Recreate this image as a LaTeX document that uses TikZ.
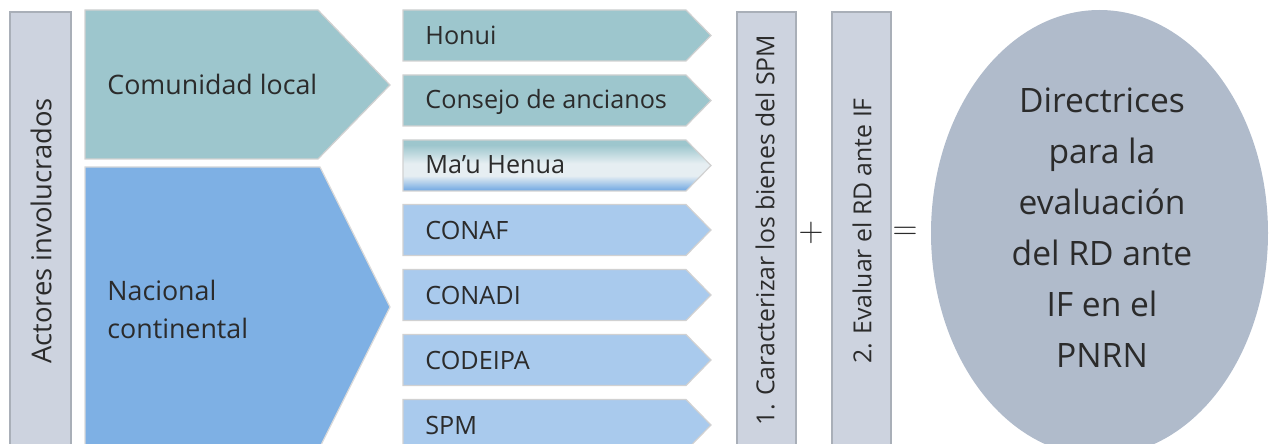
\documentclass[tikz,border=0pt]{standalone}
\usepackage{fontspec}
\setmainfont{Open Sans}
\usepackage{xcolor}
\definecolor{barfill}{HTML}{CDD3DF}
\definecolor{barline}{HTML}{A9AFB8}
\definecolor{tealfill}{HTML}{9DC6CD}
\definecolor{bluefill}{HTML}{7EB0E4}
\definecolor{paleblue}{HTML}{A9CAED}
\definecolor{ovalfill}{HTML}{B0BBCB}
\definecolor{mistwhite}{HTML}{E6EEF2}
\definecolor{inkgray}{HTML}{2B2B2B}
\usepackage{tikz}
\usetikzlibrary{positioning}

\pgfdeclareverticalshading{mauband}{100bp}{color(0bp)=(bluefill); color(27bp)=(bluefill); color(40bp)=(mistwhite); color(52bp)=(mistwhite); color(70bp)=(tealfill); color(100bp)=(tealfill)}

\tikzset{
  bar/.style={fill=barfill, draw=barline, line width=0.6pt},
  chevteal/.style={fill=tealfill, draw=black!18, line width=0.6pt},
  chevblue/.style={fill=paleblue, draw=black!18, line width=0.6pt},
  vtext/.style={rotate=90, text=inkgray, inner sep=0pt},
  rowtext/.style={anchor=base west, text=inkgray, inner sep=0pt, font=\fontsize{12.6}{15}\selectfont},
  sign/.style={text=inkgray, inner sep=0pt, font=\fontsize{18.5}{20}\selectfont}
}

\begin{document}
\begin{tikzpicture}[x=0.5pt, y=-0.5pt]
  \useasboundingbox (0,0) rectangle (1270,444);
  \clip (0,0) rectangle (1270,444);

  % Actores involucrados
  \draw[bar] (10,12) rectangle (71,450);
  \node[vtext, font=\fontsize{13.7}{16}\selectfont] (actores) at (41,231) {Actores involucrados};

  % Comunidad local / Nacional continental
  \draw[chevteal] (85,10) -- (318,10) -- (390,85) -- (318,159) -- (85,159) -- cycle;
  \node[anchor=base west, text=inkgray, inner sep=0pt, font=\fontsize{13.4}{16}\selectfont] (local) at (107,95) {Comunidad local};
  \draw[fill=bluefill, draw=black!15, line width=0.6pt] (85,167) -- (320,167) -- (390,307) -- (320,447) -- (85,447) -- cycle;
  \node[anchor=base west, text=inkgray, inner sep=0pt, align=left, font=\fontsize{13.4}{19}\selectfont] (nacional) at (107,338) {Nacional\\continental};

  % Honui
  \draw[chevteal] (403,10) -- (686,10) -- (711,35.5) -- (686,61) -- (403,61) -- cycle;
  \node[rowtext] (honui) at (425,45) {Honui};

  % Consejo de ancianos
  \draw[chevteal] (403,75) -- (686,75) -- (711,100.5) -- (686,126) -- (403,126) -- cycle;
  \node[rowtext] (consejo) at (425,109) {Consejo de ancianos};

  % Ma'u Henua
  \shade[shading=mauband, draw=black!18, line width=0.6pt]
    (403,140) -- (686,140) -- (711,165.5) -- (686,191) -- (403,191) -- cycle;
  \node[rowtext] (mauhenua) at (425,174) {Ma’u Henua};

  % CONAF
  \draw[chevblue] (403,204.5) -- (686,204.5) -- (711,230) -- (686,255.5) -- (403,255.5) -- cycle;
  \node[rowtext] (conaf) at (425,239.5) {CONAF};

  % CONADI
  \draw[chevblue] (403,269.5) -- (686,269.5) -- (711,295) -- (686,320.5) -- (403,320.5) -- cycle;
  \node[rowtext] (conadi) at (425,304.5) {CONADI};

  % CODEIPA
  \draw[chevblue] (403,334.5) -- (686,334.5) -- (711,360) -- (686,385.5) -- (403,385.5) -- cycle;
  \node[rowtext] (codeipa) at (425,369) {CODEIPA};

  % SPM
  \draw[chevblue] (403,399.5) -- (686,399.5) -- (711,425) -- (686,450.5) -- (403,450.5) -- cycle;
  \node[rowtext] (spm) at (425,434) {SPM};

  % steps
  \draw[bar] (737,12) rectangle (796,450);
  \node[vtext, font=\fontsize{12.4}{15}\selectfont] (paso1) at (765,230) {1. Caracterizar los bienes del SPM};
  \node[sign] (mas) at (811,233) {$+$};
  \draw[bar] (832,12) rectangle (891,450);
  \node[vtext, font=\fontsize{12.4}{15}\selectfont] (paso2) at (862,231) {2. Evaluar el RD ante IF};
  \node[sign] (igual) at (905,233) {$=$};

  % result
  \fill[ovalfill] (1099.5,233) ellipse [x radius=168.5, y radius=223];
  \node[text=inkgray, align=center, inner sep=0pt, font=\fontsize{16.8}{25.5}\selectfont] (directrices) at (1102,228)
    {Directrices\\para la\\evaluación\\del RD ante\\IF en el\\PNRN};
\end{tikzpicture}
\end{document}
